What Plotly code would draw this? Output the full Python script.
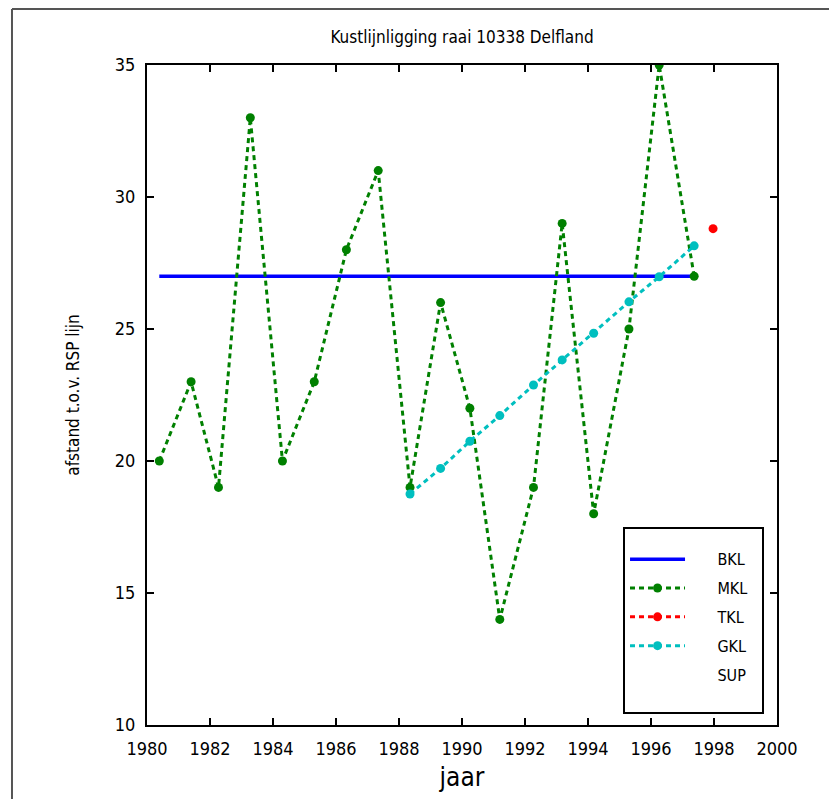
import plotly.graph_objects as go

FONT = "DejaVu Sans Condensed, Liberation Sans Narrow, sans-serif"

# Data
mkl_years = [1980.39, 1981.40, 1982.27, 1983.28, 1984.30, 1985.31, 1986.33, 1987.34,
             1988.35, 1989.32, 1990.25, 1991.20, 1992.27, 1993.18, 1994.18, 1995.30,
             1996.26, 1997.37]
mkl_values = [20, 23, 19, 33, 20, 23, 28, 31, 19, 26, 22, 14, 19, 29, 18, 25, 35, 27]

bkl_years = [1980.39, 1997.37]
bkl_values = [27.0, 27.0]

tkl_years = [1997.97]
tkl_values = [28.8]

gkl_years = [1988.35, 1989.32, 1990.25, 1991.20, 1992.27, 1993.18, 1994.18, 1995.30,
             1996.26, 1997.37]
gkl_values = [18.75, 19.72, 20.75, 21.72, 22.88, 23.83, 24.84, 26.03, 26.98, 28.15]

x_ticks = [1980, 1982, 1984, 1986, 1988, 1990, 1992, 1994, 1996, 1998, 2000]
y_ticks = [10, 15, 20, 25, 30, 35]

PAD = "&nbsp;" * 6
END = "&nbsp;" * 2

fig = go.Figure()
fig.add_trace(go.Scatter(x=bkl_years, y=bkl_values, mode="lines", name=PAD + "BKL" + END, legendgroup="a",
                         line=dict(color="#0000FF", width=3.5)))
fig.add_trace(go.Scatter(x=mkl_years, y=mkl_values, mode="lines+markers", name=PAD + "MKL" + END, legendgroup="b",
                         line=dict(color="#008000", width=3, dash="5px,4px"),
                         marker=dict(color="#008000", size=9)))
fig.add_trace(go.Scatter(x=tkl_years, y=tkl_values, mode="lines+markers", name=PAD + "TKL" + END, legendgroup="c",
                         line=dict(color="#FF0000", width=3, dash="5px,4px"),
                         marker=dict(color="#FF0000", size=9)))
fig.add_trace(go.Scatter(x=gkl_years, y=gkl_values, mode="lines+markers", name=PAD + "GKL" + END, legendgroup="d",
                         line=dict(color="#00BFBF", width=3, dash="5px,4px"),
                         marker=dict(color="#00BFBF", size=9)))
fig.add_trace(go.Scatter(x=[None], y=[None], mode="lines", name=PAD + "SUP<br>&nbsp;", legendgroup="e",
                         line=dict(color="rgba(0,0,0,0)", width=0)))

axis_common = dict(
    showgrid=False, zeroline=False, showline=True, linecolor="black", linewidth=2,
    mirror="ticks", ticks="inside", ticklen=7, tickwidth=1.5, tickcolor="black",
    tickfont=dict(family=FONT, size=18, color="black"),
)

fig.update_xaxes(range=[1980, 2000], tickvals=x_ticks, ticklabelstandoff=6,
                 title=dict(text="jaar", font=dict(family=FONT, size=26, color="black"),
                            standoff=10),
                 **axis_common)
fig.update_yaxes(range=[10, 35], tickvals=y_ticks, ticklabelstandoff=6,
                 title=dict(text="afstand t.o.v. RSP lijn",
                            font=dict(family=FONT, size=17, color="black"), standoff=31),
                 **axis_common)

# outer frame of the figure
fig.add_shape(type="line", xref="paper", yref="paper", x0=-0.2143, x1=1.2, y0=1.0848, y1=1.0848,
              line=dict(color="#555555", width=2))
fig.add_shape(type="line", xref="paper", yref="paper", x0=-0.2143, x1=-0.2143, y0=-0.2, y1=1.0848,
              line=dict(color="#555555", width=2))

fig.update_layout(
    width=829, height=791,
    margin=dict(l=139, r=60, t=57, b=74),
    paper_bgcolor="white", plot_bgcolor="white",
    title=dict(text="Kustlijnligging raai 10338 Delfland", x=454 / 829, xanchor="center",
               y=1 - 29 / 791, yanchor="middle",
               font=dict(family=FONT, size=17, color="black")),
    showlegend=True,
    legend=dict(x=0.7556, y=0.2995, xanchor="left", yanchor="top",
                bordercolor="black", borderwidth=2, bgcolor="white",
                font=dict(family=FONT, size=16, color="black"),
                title=dict(text=" ", font=dict(size=10)),
                itemwidth=55, tracegroupgap=5, traceorder="grouped"),
    font=dict(family=FONT, color="black"),
)

fig.write_html("out.html")
